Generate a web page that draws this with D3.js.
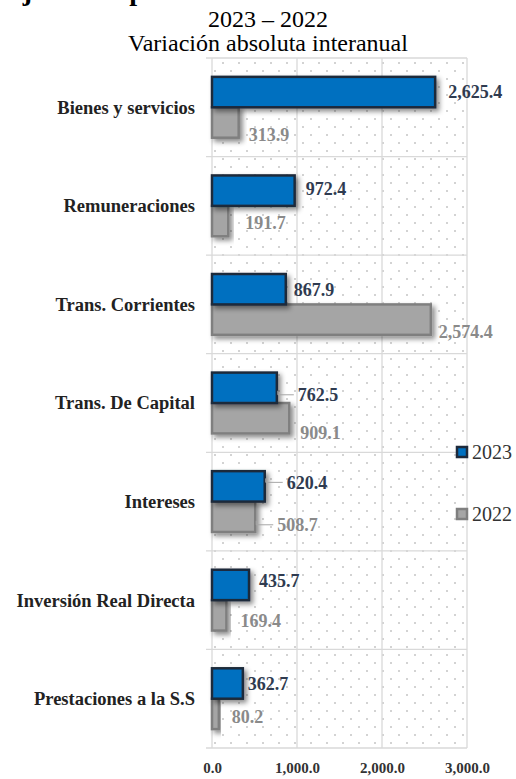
<!DOCTYPE html>
<html>
<head>
<meta charset="utf-8">
<script src="https://cdn.jsdelivr.net/npm/d3@7"></script>
<style>
  body { margin: 0; background: #fff; }
  #vis { width: 516px; height: 779px; }
</style>
</head>
<body>
<div id="vis"></div>
<script>
const categories = ["Bienes y servicios", "Remuneraciones", "Trans. Corrientes", "Trans. De Capital",
  "Intereses", "Inversión Real Directa", "Prestaciones a la S.S"]
const values2023 = [2625.4, 972.4, 867.9, 762.5, 620.4, 435.7, 362.7]
const values2022 = [313.9, 191.7, 2574.4, 909.1, 508.7, 169.4, 80.2]
const xTicks = [0, 1000, 2000, 3000]
const seriesNames = ["2023", "2022"]

// hand-placed label nudges (as in the original), px
const labelDx = { "2023": [13, 11, 8, 21, 22, 10, 5], "2022": [10, 17, 8, 11, 22, 14, 13] }
const labelDy = { "2023": [0, -2, 0, 7, -4, -4, 0], "2022": [12, 2, 12, 14, 8, 5, 3] }
const leaders = { "2023": [0, 0, 0, 1, 1, 0, 0], "2022": [0, 0, 0, 0, 1, 0, 0] }

const width = 516, height = 779
const margin = { top: 58, right: 49, bottom: 31, left: 212 }

const colours = {
  "2023": { fill: "#0070C0", stroke: "#1E2A3B", label: "#2F3B50" },
  "2022": { fill: "#A5A5A5", stroke: "#7F7F7F", label: "#8A8A8A" }
}

const shaped = categories.map((c, i) => ({ cat: c, i: i, values: { "2023": values2023[i], "2022": values2022[i] } }))

const svg = d3.select("#vis").append("svg")
  .attr("width", width)
  .attr("height", height)
  .attr("font-family", "'Liberation Serif', 'Times New Roman', serif")

const defs = svg.append("defs")
const pat = defs.append("pattern")
  .attr("id", "dots")
  .attr("patternUnits", "userSpaceOnUse")
  .attr("width", 16).attr("height", 16)
pat.append("rect").attr("x", 6).attr("y", 6).attr("width", 2).attr("height", 2).attr("fill", "#d3d3d3")
pat.append("rect").attr("x", 14).attr("y", 14).attr("width", 2).attr("height", 2).attr("fill", "#d3d3d3")

defs.append("filter")
  .attr("id", "shadow")
  .attr("x", "-20%").attr("y", "-30%").attr("width", "150%").attr("height", "180%")
  .append("feDropShadow")
  .attr("dx", 3).attr("dy", 3).attr("stdDeviation", 2.5)
  .attr("flood-color", "#000").attr("flood-opacity", 0.45)

const x = d3.scaleLinear()
  .domain([0, 3000])
  .range([margin.left, width - margin.right])

const y = d3.scaleBand()
  .domain(categories)
  .range([margin.top, height - margin.bottom])

const ySub = d3.scaleBand()
  .domain(seriesNames)
  .range([0, y.bandwidth()])
  .paddingInner(0)
  .paddingOuter(0.62)

const fmt = d3.format(",.1f")

// titles (the first one is cut by the top edge, like in the source picture)
svg.append("text")
  .attr("x", 4).attr("y", 0)
  .attr("font-size", 28).attr("font-weight", "bold")
  .text("Ejecución por Rubro")

svg.append("text")
  .attr("x", 268).attr("y", 27)
  .attr("text-anchor", "middle").attr("font-size", 24)
  .text("2023 – 2022")

svg.append("text")
  .attr("x", 268).attr("y", 51)
  .attr("text-anchor", "middle").attr("font-size", 24)
  .text("Variación absoluta interanual")

// plot background dots
svg.append("rect")
  .attr("x", x(0)).attr("y", margin.top)
  .attr("width", x(3000) - x(0)).attr("height", height - margin.bottom - margin.top)
  .attr("fill", "url(#dots)")

// grid
const grid = svg.append("g").attr("stroke", "#D9D9D9").attr("stroke-width", 1.3)
grid.selectAll("line.v")
  .data(xTicks)
  .join("line")
  .attr("class", "v")
  .attr("x1", d => x(d)).attr("x2", d => x(d))
  .attr("y1", margin.top).attr("y2", height - margin.bottom)

const bounds = categories.map(c => y(c)).concat([y(categories[categories.length - 1]) + y.bandwidth()])
grid.selectAll("line.h")
  .data(bounds)
  .join("line")
  .attr("class", "h")
  .attr("x1", x(0) - 6).attr("x2", x(3000))
  .attr("y1", d => d).attr("y2", d => d)

// x tick labels
svg.append("g")
  .attr("transform", `translate(0,${height - margin.bottom})`)
  .call(d3.axisBottom(x).tickValues(xTicks).tickFormat(fmt).tickSize(0).tickPadding(14))
  .call(g => g.select(".domain").remove())
  .call(g => g.selectAll(".tick text")
    .attr("font-family", "'Liberation Serif', 'Times New Roman', serif")
    .attr("font-size", 15)
    .attr("font-weight", "bold")
    .attr("fill", "#333"))

// category labels
svg.append("g")
  .selectAll("text")
  .data(categories)
  .join("text")
  .attr("x", 195)
  .attr("y", d => y(d) + y.bandwidth() / 2)
  .attr("dy", "0.35em")
  .attr("text-anchor", "end")
  .attr("font-size", 18.5)
  .attr("font-weight", "bold")
  .attr("fill", "#222")
  .text(d => d)

// bars
const groups = svg.append("g")
  .selectAll("g")
  .data(shaped)
  .join("g")
  .attr("transform", d => `translate(0,${y(d.cat)})`)

const barData = d => seriesNames.map(s => ({ s: s, v: d.values[s], i: d.i }))

// grey first so the blue sits on top
groups.selectAll("rect")
  .data(d => barData(d).reverse())
  .join("rect")
  .attr("x", x(0))
  .attr("y", d => ySub(d.s))
  .attr("width", d => x(d.v) - x(0))
  .attr("height", ySub.bandwidth())
  .attr("fill", d => colours[d.s].fill)
  .attr("stroke", d => colours[d.s].stroke)
  .attr("stroke-width", 2.5)
  .attr("filter", "url(#shadow)")

// leader lines
groups.selectAll("path.leader")
  .data(d => barData(d).filter(b => leaders[b.s][b.i]))
  .join("path")
  .attr("class", "leader")
  .attr("fill", "none")
  .attr("stroke", "#A6A6A6")
  .attr("stroke-width", 1)
  .attr("d", d => {
    const ly = ySub(d.s) + ySub.bandwidth() / 2 + labelDy[d.s][d.i]
    const x0 = x(d.v) + 1
    return `M${x0},${ly - 4}L${x0},${ly}L${x0 + labelDx[d.s][d.i] - 5},${ly}`
  })

// value labels
groups.selectAll("text.val")
  .data(d => barData(d))
  .join("text")
  .attr("class", "val")
  .attr("x", d => x(d.v) + labelDx[d.s][d.i])
  .attr("y", d => ySub(d.s) + ySub.bandwidth() / 2 + labelDy[d.s][d.i])
  .attr("dy", "0.35em")
  .attr("font-size", 18)
  .attr("font-weight", "bold")
  .attr("fill", d => colours[d.s].label)
  .text(d => fmt(d.v))

// legend
const legend = svg.append("g")
  .selectAll("g")
  .data(seriesNames)
  .join("g")
  .attr("transform", (d, i) => `translate(456,${446 + i * 62})`)

legend.append("rect")
  .attr("x", 1).attr("y", 1)
  .attr("width", 10).attr("height", 10)
  .attr("fill", d => colours[d].fill)
  .attr("stroke", d => colours[d].stroke)
  .attr("stroke-width", 2.5)

legend.append("text")
  .attr("x", 16).attr("y", 6)
  .attr("dy", "0.35em")
  .attr("font-size", 20)
  .attr("fill", "#333")
  .text(d => d)
</script>
</body>
</html>
